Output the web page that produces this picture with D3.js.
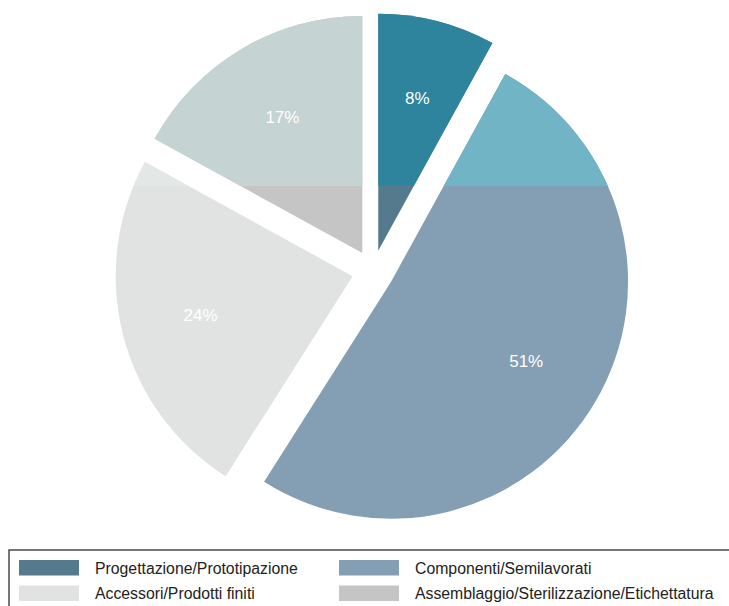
<!DOCTYPE html>
<html>
<head>
<meta charset="utf-8">
<script src="https://cdn.jsdelivr.net/npm/d3@7"></script>
<style>
  html, body { margin: 0; padding: 0; background: #fff; }
  svg { display: block; }
  text { font-family: "Liberation Sans", Arial, Helvetica, sans-serif; }
</style>
</head>
<body>
<svg id="chart" width="729" height="606"></svg>
<script>
// Breakdown of activities (share of total, %)
const categories = [
  "Progettazione/Prototipazione",
  "Componenti/Semilavorati",
  "Accessori/Prodotti finiti",
  "Assemblaggio/Sterilizzazione/Etichettatura"
];
const shares = [8, 51, 24, 17];
const labels = ["8%", "51%", "24%", "17%"];

// Main slice colours (also used in the legend) and the tint of the upper band
const colors = ["#557a8e", "#849fb4", "#e1e3e3", "#c5c5c5"];
const upperColors = ["#2e849d", "#70b4c6", "#e3e8e7", "#c5d3d3"];

const W = 729, H = 606;
const cx = 373, cy = 271;
const radius = 237;
const explode = 21;
const labelRadius = 157;
const bandY = 186;

const svg = d3.select("#chart");

const pie = d3.pie().sort(null).value(d => d)
  .startAngle(0).endAngle(2 * Math.PI);
const arcs = pie(shares);

const arc = d3.arc().innerRadius(0).outerRadius(radius);
const labelArc = d3.arc().innerRadius(labelRadius).outerRadius(labelRadius);

function offset(d) {
  const a = (d.startAngle + d.endAngle) / 2;
  return [cx + explode * Math.sin(a), cy - explode * Math.cos(a)];
}

// Clip for the upper tinted band
svg.append("defs").append("clipPath").attr("id", "upperBand")
  .append("rect").attr("x", 0).attr("y", 0).attr("width", W).attr("height", bandY);

function drawSlices(parent, palette) {
  parent.selectAll("path")
    .data(arcs)
    .join("path")
    .attr("transform", d => `translate(${offset(d)})`)
    .attr("d", arc)
    .attr("fill", (d, i) => palette[i]);
}

drawSlices(svg.append("g"), colors);
drawSlices(svg.append("g").attr("clip-path", "url(#upperBand)"), upperColors);

// Percentage labels
svg.append("g")
  .selectAll("text")
  .data(arcs)
  .join("text")
  .attr("transform", d => {
    const [ox, oy] = offset(d);
    const [lx, ly] = labelArc.centroid(d);
    return `translate(${ox + lx},${oy + ly})`;
  })
  .attr("text-anchor", "middle")
  .attr("dominant-baseline", "central")
  .attr("fill", "#ffffff")
  .attr("font-size", 17)
  .text((d, i) => labels[i]);

// Legend
const legend = svg.append("g");
legend.append("rect")
  .attr("x", 9).attr("y", 550)
  .attr("width", W + 20).attr("height", 80)
  .attr("fill", "none")
  .attr("stroke", "#4a4a4a")
  .attr("stroke-width", 1.5);

const colX = [19, 339];
const rowY = [560, 585.5];
const items = legend.selectAll("g.item")
  .data(categories)
  .join("g")
  .attr("class", "item")
  .attr("transform", (d, i) => `translate(${colX[i % 2]},${rowY[Math.floor(i / 2)]})`);

items.append("rect")
  .attr("width", 60).attr("height", 15.5)
  .attr("fill", (d, i) => colors[i]);

items.append("text")
  .attr("x", 76).attr("y", 8)
  .attr("dominant-baseline", "central")
  .attr("font-size", 15.8)
  .attr("fill", "#222")
  .text(d => d);
</script>
</body>
</html>
